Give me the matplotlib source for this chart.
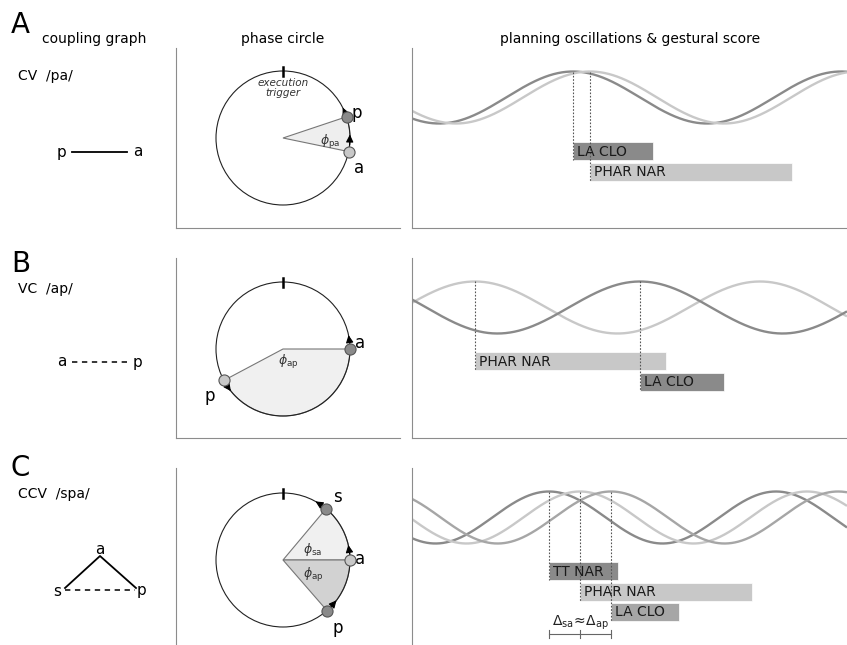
import numpy as np
import matplotlib.pyplot as plt
from matplotlib.patches import Circle, Wedge

plt.rcParams['font.family'] = 'DejaVu Sans'
plt.rcParams['mathtext.fontset'] = 'dejavusans'

DARK = '#8a8a8a'
MID = '#a6a6a6'
LIGHT = '#c8c8c8'
SPINE = '#8c8c8c'

# ---- phase circle data (angles in degrees, 0 = right, counter-clockwise) ----
circ_labels = [['p', 'a'], ['a', 'p'], ['s', 'a', 'p']]
circ_angles = [[18.5, -11.7], [0.0, 208.0], [50.0, 0.0, -49.0]]
circ_colors = [[DARK, LIGHT], [DARK, LIGHT], [DARK, LIGHT, DARK]]
# arrow (tail, head) angles next to each point
arrow_tail = [[22, -6], [5, 213], [55, 5, -44]]
arrow_head = [[27, 3], [12, 219], [61, 13, -37]]
# wedges between phases
wedge_from = [[-11.7], [208.0], [0.0, -49.0]]
wedge_to = [[18.5], [360.0], [50.0, 0.0]]
wedge_fill = [['#eeeeee'], ['#f0f0f0'], ['#f0f0f0', '#d2d2d2']]
phi_labels = [[r'$\phi_{\mathrm{pa}}$'], [r'$\phi_{\mathrm{ap}}$'],
              [r'$\phi_{\mathrm{sa}}$', r'$\phi_{\mathrm{ap}}$']]

# ---- planning oscillations (x in px-like time units, peak = onset) ----
osc_period = [268, 285, 227]
osc_peaks = [[161, 178], [63, 228], [137, 168, 199]]
osc_colors = [[DARK, LIGHT], [LIGHT, DARK], [DARK, LIGHT, MID]]

# ---- gestural score ----
bar_labels = [['LA CLO', 'PHAR NAR'], ['PHAR NAR', 'LA CLO'],
              ['TT NAR', 'PHAR NAR', 'LA CLO']]
bar_start = [[161, 178], [63, 228], [137, 168, 199]]
bar_end = [[241, 380], [254, 312], [206, 340, 267]]
bar_colors = [[DARK, LIGHT], [LIGHT, DARK], [DARK, LIGHT, MID]]

W, H = 847, 645
fig = plt.figure(figsize=(W / 100, H / 100), dpi=100)


def px_axes(x0, y0, x1, y1):
    return fig.add_axes([x0 / W, 1 - y1 / H, (x1 - x0) / W, (y1 - y0) / H])


def polar(r, deg):
    t = np.deg2rad(deg)
    return r * np.cos(t), r * np.sin(t)


R = 67
row_top = [48, 258, 468]
row_bot = [228, 438, 645]
circ_cy = [138, 349, 560]
label_off = [[(10, 4), (10, -16)], [(10, 6), (-14, -16)], [(11, 12), (10, 1), (11, -17)]]
phi_pos = [[(47, -4)], [(5, -13)], [(30, 10), (30, -15)]]

for i in range(3):
    # phase circle panel
    ax = px_axes(176, row_top[i], 400, row_bot[i])
    cy = circ_cy[i]
    ax.set_xlim(-107, 117)
    ax.set_ylim(-(row_bot[i] - cy), cy - row_top[i])
    ax.set_xticks([])
    ax.set_yticks([])
    for s in ['top', 'right']:
        ax.spines[s].set_visible(False)
    if i == 2:
        ax.spines['bottom'].set_visible(False)
    for s in ['left', 'bottom']:
        ax.spines[s].set_color(SPINE)

    for k in range(len(wedge_from[i])):
        ax.add_patch(Wedge((0, 0), R, wedge_from[i][k], wedge_to[i][k],
                           facecolor=wedge_fill[i][k], edgecolor='#777777', lw=0.8))
        px, py = phi_pos[i][k]
        ax.text(px, py, phi_labels[i][k], fontsize=9, ha='center', va='center', color='#333333')
    ax.add_patch(Circle((0, 0), R, fill=False, ec='#222222', lw=0.8))
    ax.plot([0, 0], [R - 5, R + 4], color='k', lw=1.8)
    if i == 0:
        ax.text(0, R - 17, 'execution\ntrigger', fontsize=7.5, style='italic',
                ha='center', va='center', linespacing=1.05, color='#333333')

    for k, lab in enumerate(circ_labels[i]):
        ang = circ_angles[i][k]
        x, y = polar(R, ang)
        tx, ty = polar(R, arrow_tail[i][k])
        hx, hy = polar(R, arrow_head[i][k])
        ax.annotate('', xy=(hx, hy), xytext=(tx, ty),
                    arrowprops=dict(arrowstyle='-|>,head_length=0.45,head_width=0.22',
                                    color='k', lw=0.8, shrinkA=0, shrinkB=0))
        ax.plot(x, y, 'o', ms=8, mfc=circ_colors[i][k], mec='#555555', mew=0.8, zorder=5)
        ox, oy = label_off[i][k]
        ax.text(x + ox, y + oy, lab, fontsize=12, ha='center', va='center')

    # planning oscillations & gestural score panel
    ax2 = px_axes(412, row_top[i], 847, row_bot[i])
    h = row_bot[i] - row_top[i]
    ax2.set_xlim(0, 435)
    ax2.set_ylim(h, 0)
    ax2.set_xticks([])
    ax2.set_yticks([])
    for s in ['top', 'right']:
        ax2.spines[s].set_visible(False)
    if i == 2:
        ax2.spines['bottom'].set_visible(False)
    for s in ['left', 'bottom']:
        ax2.spines[s].set_color(SPINE)

    mid, amp = 49.5, 26
    t = np.linspace(0, 435, 800)
    for k, pk in enumerate(osc_peaks[i]):
        yy = mid - amp * np.cos(2 * np.pi * (t - pk) / osc_period[i])
        ax2.plot(t, yy, color=osc_colors[i][k], lw=1.7, solid_capstyle='butt')

    lane0, lane_step, bar_h = 103, 20.5, 18
    for k, lab in enumerate(bar_labels[i]):
        yc = lane0 + lane_step * k
        ax2.barh(yc, bar_end[i][k] - bar_start[i][k], left=bar_start[i][k],
                 height=bar_h, color=bar_colors[i][k], edgecolor='white', lw=0.5, zorder=2)
        ax2.text(bar_start[i][k] + 4, yc + 0.5, lab, fontsize=10, va='center',
                 ha='left', color='#1a1a1a', zorder=4)
        ax2.plot([bar_start[i][k]] * 2, [mid - amp, yc + bar_h / 2],
                 ls=(0, (1.5, 1.5)), color='#555555', lw=0.8, zorder=3)

    if i == 2:
        xs = bar_start[i]
        ax2.plot([xs[0], xs[-1]], [166, 166], color='#666666', lw=0.8)
        for xv in xs:
            ax2.plot([xv, xv], [162, 170], color='#666666', lw=0.8)
        ax2.text(xs[1], 155, r'$\Delta_{\mathrm{sa}}\!\approx\!\Delta_{\mathrm{ap}}$',
                 fontsize=10, ha='center', va='center', color='#222222')

# ---- overlay for titles and coupling graphs ----
ov = fig.add_axes([0, 0, 1, 1])
ov.set_xlim(0, W)
ov.set_ylim(H, 0)
ov.axis('off')
ov.patch.set_alpha(0)

ov.text(11, 33, 'A', fontsize=20, va='baseline')
ov.text(11, 272, 'B', fontsize=20, va='baseline')
ov.text(11, 476, 'C', fontsize=20, va='baseline')
ov.text(42, 43, 'coupling graph', fontsize=10, va='baseline')
ov.text(283, 43, 'phase circle', fontsize=10, va='baseline', ha='center')
ov.text(630, 43, 'planning oscillations & gestural score', fontsize=10,
        va='baseline', ha='center')
ov.text(18, 80, 'CV  /pa/', fontsize=10, va='baseline')
ov.text(18, 293, 'VC  /ap/', fontsize=10, va='baseline')
ov.text(18, 498, 'CCV  /spa/', fontsize=10, va='baseline')

# coupling graphs (solid = in-phase, dashed = anti-phase)
ov.text(62, 152, 'p', fontsize=11, ha='center', va='center')
ov.text(138, 152, 'a', fontsize=11, ha='center', va='center')
ov.plot([72, 127], [152, 152], color='k', lw=1.3)

ov.text(62, 362, 'a', fontsize=11, ha='center', va='center')
ov.text(138, 362, 'p', fontsize=11, ha='center', va='center')
ov.plot([72, 128], [362, 362], color='k', lw=1.1, ls=(0, (3.5, 3)))

ov.text(100, 549, 'a', fontsize=11, ha='center', va='center')
ov.text(57, 591, 's', fontsize=11, ha='center', va='center')
ov.text(142, 591, 'p', fontsize=11, ha='center', va='center')
ov.plot([65, 100, 136], [588, 556, 588], color='k', lw=1.3)
ov.plot([65, 135], [590, 590], color='k', lw=1.1, ls=(0, (3.5, 3)))

fig.savefig('out.png', dpi=100)
